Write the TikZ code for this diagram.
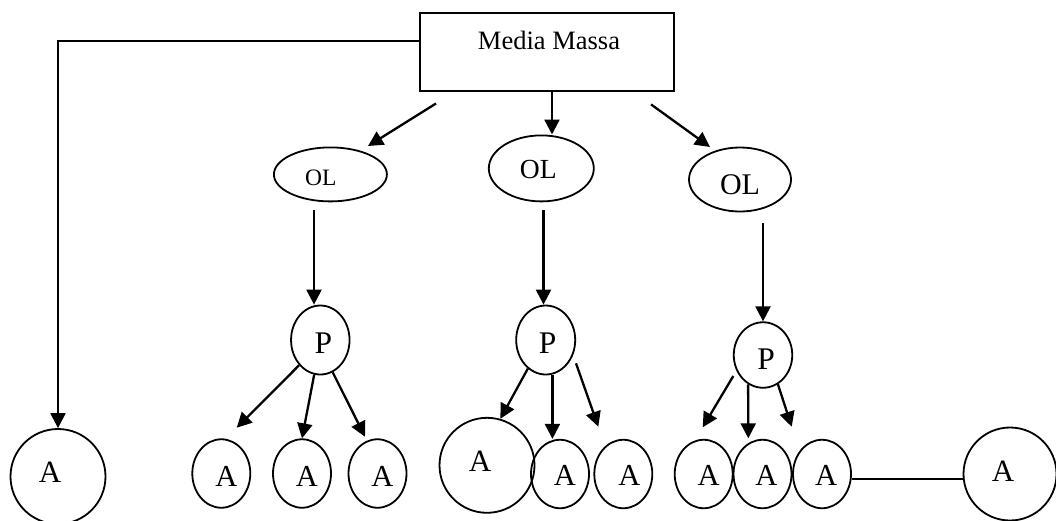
\documentclass[tikz,border=0pt]{standalone}
\usepackage{fontspec}
\setmainfont{Liberation Serif}
\usetikzlibrary{arrows.meta,shapes.geometric}

\begin{document}
\begin{tikzpicture}[x=1pt,y=-1pt,
  conn/.style={line width=2.3pt},
  arr/.style={conn,-{Triangle[length=15pt,width=15pt]}},
  box/.style={draw,rectangle,line width=2pt,inner sep=0pt,minimum width=254pt,minimum height=78pt},
  oval/.style 2 args={draw,ellipse,line width=1.8pt,inner sep=0pt,minimum width=#1,minimum height=#2},
  txt/.style n args={4}{label={[xshift=#1,yshift=#2,inner sep=0pt,font=\fontsize{#3}{#3}\selectfont]center:#4}},
  smallA/.style={oval={58pt}{68.5pt}},
  bigA/.style={oval={95pt}{95pt}},
]
\useasboundingbox (0,0) rectangle (1056,520);

% source box
\node[box,txt={2pt}{11.6pt}{26.5}{Media Massa}] (mm) at (547,52) {};

% opinion leaders
\node[oval={113pt}{54pt},txt={-9.7pt}{-3pt}{23.5}{OL}] (ol1) at (330.4,174.4) {};
\node[oval={105pt}{66pt},txt={-3pt}{-1pt}{27.6}{OL}] (ol2) at (541.3,168.4) {};
\node[oval={102pt}{64pt},txt={0pt}{-5pt}{30}{OL}] (ol3) at (740,179.5) {};

% P nodes
\node[oval={58.5pt}{69pt},txt={3pt}{-3pt}{31.5}{P}] (p1) at (320.3,340) {};
\node[oval={59pt}{69pt},txt={2pt}{-3pt}{31.5}{P}] (p2) at (545.7,340) {};
\node[oval={58.5pt}{65.5pt},txt={3pt}{-4pt}{31.5}{P}] (p3) at (763,355) {};

% audience
\node[bigA,txt={-8pt}{4.5pt}{31}{A}] (aL) at (58,476.5) {};
\node[smallA,txt={5pt}{-2.5pt}{30.5}{A}] (a11) at (221.3,473.5) {};
\node[smallA,txt={5pt}{-2.5pt}{30.5}{A}] (a12) at (302,473.5) {};
\node[smallA,txt={5pt}{-2.5pt}{30.5}{A}] (a13) at (377.5,473.5) {};
\node[bigA,txt={-7pt}{4.5pt}{31}{A}] (a21) at (487,465.3) {};
\node[smallA,txt={5pt}{-1.5pt}{30.5}{A}] (a22) at (560,474) {};
\node[smallA,txt={6pt}{-1.5pt}{30.5}{A}] (a23) at (623.3,474) {};
\node[smallA,txt={5pt}{-1.5pt}{30.5}{A}] (a31) at (703.7,474) {};
\node[smallA,txt={4pt}{-1.5pt}{30.5}{A}] (a32) at (762.5,474) {};
\node[smallA,txt={4pt}{-1.5pt}{30.5}{A}] (a33) at (822,474) {};
\node[oval={93pt}{93pt},txt={-7pt}{3pt}{31}{A}] (aR) at (1010,474) {};

% free connector ends
\coordinate (m1s) at (436,103.5);
\coordinate (m1e) at (368,146);
\coordinate (m3s) at (651,104.4);
\coordinate (m3e) at (710,147);
\coordinate (o1s) at (314,210);
\coordinate (o2s) at (543.5,210);
\coordinate (o3s) at (763,223);
\coordinate (t11) at (236.7,427.7);
\coordinate (t13) at (365,436.7);
\coordinate (s23) at (576,363.3);
\coordinate (t23) at (598.3,426.7);
\coordinate (s31) at (733.3,376);
\coordinate (t31) at (702.7,427.3);
\coordinate (t32) at (748.3,438.3);
\coordinate (t33) at (791.7,426.7);

% media to audience directly
\draw[arr] ([yshift=11.3pt]mm.west) -| (aL.north);

% media to opinion leaders
\draw[arr] (m1s) -- (m1e);
\draw[arr] ([xshift=5pt]mm.south) -- ([xshift=5pt]mm.south |- ol2.north);
\draw[arr] (m3s) -- (m3e);

% opinion leaders to P
\draw[arr] (o1s) -- (o1s |- p1.north);
\draw[arr] (o2s) -- (o2s |- p2.north);
\draw[arr] (o3s) -- (p3.north);

% P to audience
\draw[arr] (p1.230) -- (t11);
\draw[arr] (p1.260) -- (a12.north);
\draw[arr] (p1.291) -- (t13);
\draw[arr] (p2.238) -- (a21.74);
\draw[arr] (p2.281) -- (p2.281 |- a22.north);
\draw[arr] (s23) -- (t23);
\draw[arr] (s31) -- (t31);
\draw[arr] (p3.243) -- (t32);
\draw[arr] (p3.297) -- (t33);

% link to the last audience member
\draw[conn] ([yshift=-5pt]a33.east) -- ([yshift=-5pt]a33.east -| aR.west);
\end{tikzpicture}
\end{document}
